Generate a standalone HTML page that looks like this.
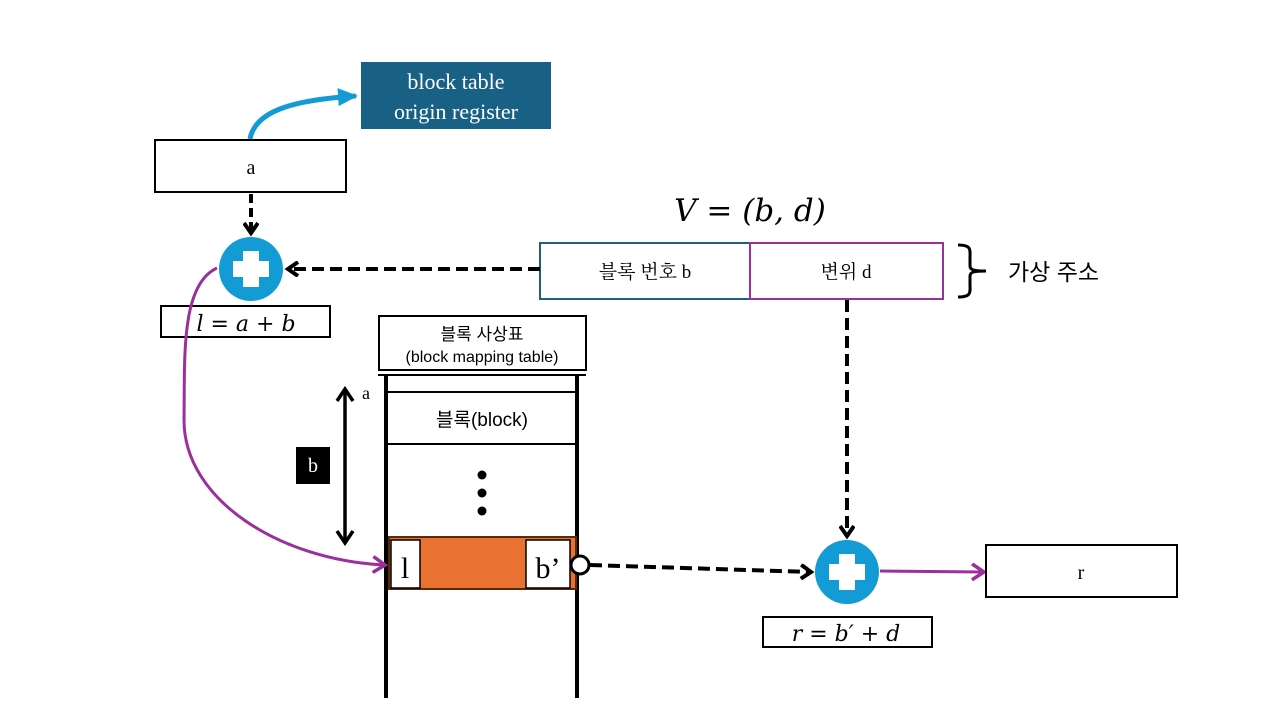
<!DOCTYPE html>
<html><head><meta charset="utf-8"><style>
body{margin:0;background:#fff;}
svg{display:block;}
text{font-family:"Liberation Serif","Noto Serif CJK SC","Noto Sans CJK KR",serif;}
.k{font-family:"Liberation Sans","Noto Sans CJK KR",sans-serif;}
.m{font-family:"DejaVu Serif","Liberation Serif",serif;font-style:italic;}
</style></head><body>
<svg width="1280" height="720" viewBox="0 0 1280 720" xmlns="http://www.w3.org/2000/svg">
<defs>
<marker id="ao" markerWidth="16" markerHeight="16" refX="11" refY="8" orient="auto" markerUnits="userSpaceOnUse"><path d="M2,1 L12,8 L2,15" fill="none" stroke="#000" stroke-width="4"/></marker>
<marker id="ablue" markerWidth="22" markerHeight="22" refX="18" refY="11" orient="auto" markerUnits="userSpaceOnUse"><path d="M0,2 L20,11 L0,20 z" fill="#139bd5"/></marker>
<marker id="ap" markerWidth="18" markerHeight="18" refX="13" refY="9" orient="auto" markerUnits="userSpaceOnUse"><path d="M2,1 L14,9 L2,17" fill="none" stroke="#9b2f9b" stroke-width="3.5"/></marker>
</defs>
<rect x="361" y="62" width="190" height="67" fill="#186184"/>
<text x="456" y="89" font-size="22" fill="#fff" text-anchor="middle">block table</text>
<text x="456" y="119" font-size="22" fill="#fff" text-anchor="middle">origin register</text>
<path d="M250,139 C255,112 290,100 356,96" fill="none" stroke="#139bd5" stroke-width="5" marker-end="url(#ablue)"/>
<rect x="155" y="140" width="191" height="52" fill="#fff" stroke="#000" stroke-width="2"/>
<text x="251" y="174" font-size="20" text-anchor="middle">a</text>
<line x1="251" y1="194" x2="251" y2="232" stroke="#000" stroke-width="4" stroke-dasharray="9,5" marker-end="url(#ao)"/>
<circle cx="251" cy="269" r="32" fill="#139bd5"/>
<path d="M243,251 h16 v10 h10 v16 h-10 v10 h-16 v-10 h-10 v-16 h10 z" fill="#fff"/>
<rect x="161" y="306" width="169" height="31" fill="#fff" stroke="#000" stroke-width="2"/>
<text x="246" y="331" font-size="22" class="m" text-anchor="middle">l = a + b</text>
<text x="750" y="221" font-size="31" class="m" text-anchor="middle">V = (b, d)</text>
<rect x="540" y="243" width="210" height="56" fill="#fff" stroke="#1f5f7f" stroke-width="2"/>
<text x="645" y="278" font-size="19" text-anchor="middle">블록 번호 b</text>
<rect x="750" y="243" width="193" height="56" fill="#fff" stroke="#9b2f9b" stroke-width="2"/>
<text x="846" y="278" font-size="19" text-anchor="middle">변위 d</text>
<path d="M958,245 C972,245 970,250 970,258 V266 C970,270 974,271 986,271 C974,271 970,272 970,276 V284 C970,292 972,297 958,297" fill="none" stroke="#000" stroke-width="3"/>
<text x="1008" y="280" font-size="23" class="k">가상 주소</text>
<line x1="540" y1="269" x2="289" y2="269" stroke="#000" stroke-width="4" stroke-dasharray="12,6" marker-end="url(#ao)"/>
<rect x="379" y="316" width="207" height="54" fill="#fff" stroke="#000" stroke-width="2"/>
<text x="482" y="340" font-size="17" text-anchor="middle" class="k">블록 사상표</text>
<text x="482" y="362" font-size="16" text-anchor="middle" class="k">(block mapping table)</text>
<line x1="378" y1="375" x2="586" y2="375" stroke="#000" stroke-width="2"/>
<line x1="386" y1="376" x2="386" y2="698" stroke="#000" stroke-width="4"/>
<line x1="577" y1="376" x2="577" y2="698" stroke="#000" stroke-width="4"/>
<line x1="386" y1="392" x2="577" y2="392" stroke="#000" stroke-width="2"/>
<line x1="386" y1="444" x2="577" y2="444" stroke="#000" stroke-width="2"/>
<text x="482" y="426" font-size="19" text-anchor="middle" class="k">블록(block)</text>
<circle cx="482" cy="475" r="4.5"/><circle cx="482" cy="493" r="4.5"/><circle cx="482" cy="511" r="4.5"/>
<rect x="389" y="537" width="187" height="52" fill="#e97132" stroke="#5a2a0a" stroke-width="2"/>
<rect x="391" y="540" width="29" height="48" fill="#fff" stroke="#000" stroke-width="1.5"/>
<text x="405" y="578" font-size="30" text-anchor="middle">l</text>
<rect x="526" y="540" width="44" height="48" fill="#fff" stroke="#000" stroke-width="1.5"/>
<text x="548" y="578" font-size="30" text-anchor="middle">b’</text>
<line x1="345" y1="392" x2="345" y2="540" stroke="#000" stroke-width="3.5"/>
<path d="M337,401 L345,389 L353,401 M337,531 L345,543 L353,531" fill="none" stroke="#000" stroke-width="3.5"/>
<text x="366" y="399" font-size="18" text-anchor="middle">a</text>
<rect x="296" y="447" width="34" height="37" fill="#000"/>
<text x="313" y="472" font-size="20" fill="#fff" text-anchor="middle">b</text>
<path d="M217,268 C180,285 185,360 184,420 C184,500 280,560 384,565" fill="none" stroke="#9b2f9b" stroke-width="3" marker-end="url(#ap)"/>
<line x1="590" y1="565" x2="810" y2="572" stroke="#000" stroke-width="4" stroke-dasharray="12,6" marker-end="url(#ao)"/>
<circle cx="580" cy="565" r="9" fill="#fff" stroke="#000" stroke-width="3"/>
<line x1="847" y1="300" x2="847" y2="535" stroke="#000" stroke-width="4" stroke-dasharray="12,6" marker-end="url(#ao)"/>
<circle cx="847" cy="572" r="32" fill="#139bd5"/>
<path d="M839,554 h16 v10 h10 v16 h-10 v10 h-16 v-10 h-10 v-16 h10 z" fill="#fff"/>
<line x1="880" y1="571" x2="983" y2="572" stroke="#9b2f9b" stroke-width="3" marker-end="url(#ap)"/>
<rect x="986" y="545" width="191" height="52" fill="#fff" stroke="#000" stroke-width="2"/>
<text x="1081" y="579" font-size="20" text-anchor="middle">r</text>
<rect x="763" y="617" width="169" height="30" fill="#fff" stroke="#000" stroke-width="2"/>
<text x="846" y="641" font-size="22" class="m" text-anchor="middle">r = b′ + d</text>
</svg>
</body></html>
